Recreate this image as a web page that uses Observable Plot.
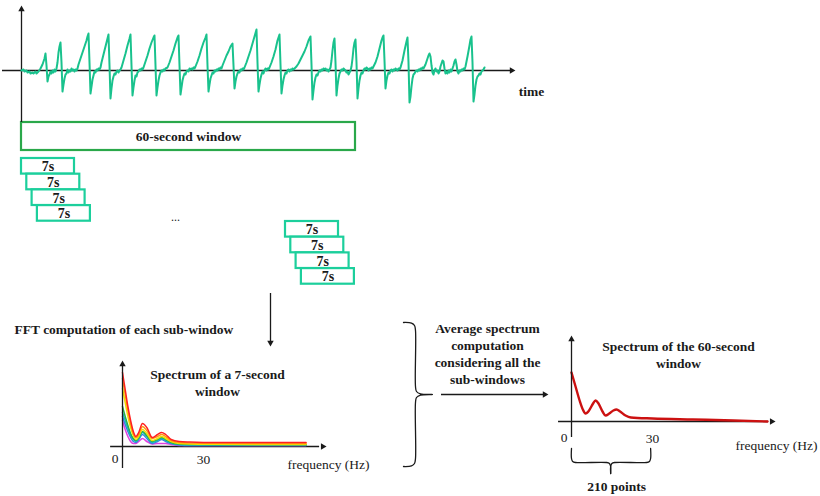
<!DOCTYPE html>
<html><head><meta charset="utf-8">
<script src="https://cdn.jsdelivr.net/npm/d3@7"></script>
<script src="https://cdn.jsdelivr.net/npm/@observablehq/plot@0.6"></script>
<style>
body{margin:0;background:#fff;}
#root{position:relative;width:820px;height:496px;overflow:hidden;background:#fff;font-family:'Liberation Serif',serif;}
#root svg{position:absolute;overflow:visible;}
</style></head><body><div id="root"></div>
<script>
// ---------------- DATA ----------------
// raw signal: [sample, amplitude]
const signal = [
[0,0],[2,1],[3,-1],[5,0],[6,-2],[8,-1],[9,-3],[11,-2],[12,-3],[14,-1],[15,-3],[17,-1],[19,2],[21,6],[23,12],[24,17],[25,5],[26,-11],[27,-6],[28,-4],[29,-1],[30,-3],[31,0],[32,-2],[33,1],[34,-1],[35,2],[36,8],[37,18],[38,24],[39,28],[40,8],[41,-21],[42,-14],[43,-8],[44,-4],[45,-3],[46,1],[47,-2],[48,0],[49,-1],[50,2],[51,0],[52,1],[53,-1],[54,1],[55,0],[56,2],[57,6],[59,12],[61,18],[63,24],[65,30],[66,34],[67,37],[68,8],[69,-23],[70,-16],[71,-9],[72,-5],[73,-1],[74,-2],[75,1],[76,0],[77,2],[78,1],[79,3],[80,8],[82,16],[84,24],[86,32],[87,36],[88,5],[89,-28],[90,-18],[91,-10],[92,-6],[93,-3],[94,-4],[95,-1],[96,0],[97,-2],[98,0],[99,1],[100,3],[102,10],[104,17],[106,25],[108,32],[109,36],[110,5],[111,-25],[112,-17],[113,-10],[114,-5],[115,-6],[116,-2],[117,-1],[118,1],[119,0],[120,2],[121,1],[122,3],[124,9],[126,15],[128,22],[130,28],[132,33],[133,35],[134,5],[135,-25],[136,-17],[137,-10],[138,-5],[139,-2],[140,0],[141,-1],[142,1],[143,0],[144,2],[146,3],[148,8],[150,14],[152,20],[154,27],[156,33],[157,35],[158,5],[159,-24],[160,-17],[161,-10],[162,-6],[163,-3],[164,-4],[165,-1],[166,0],[167,-1],[168,2],[169,1],[170,2],[171,1],[172,3],[173,2],[174,4],[176,9],[178,15],[180,22],[182,28],[184,33],[185,36],[186,5],[187,-21],[188,-14],[189,-8],[190,-5],[191,-2],[192,-3],[193,0],[194,-1],[195,1],[196,0],[197,2],[198,1],[199,3],[200,2],[201,5],[203,10],[205,15],[207,19],[209,24],[211,27],[212,5],[213,-18],[214,-11],[215,-6],[216,-3],[217,-1],[218,-2],[219,1],[220,0],[221,2],[222,1],[223,3],[225,8],[227,14],[229,20],[231,27],[233,34],[235,41],[236,8],[237,-21],[238,-14],[239,-8],[240,-4],[241,-1],[242,-3],[243,0],[244,2],[245,0],[246,2],[247,1],[248,3],[250,8],[252,14],[254,21],[256,30],[258,36],[259,6],[260,-23],[261,-15],[262,-9],[263,-5],[264,-2],[265,-3],[266,0],[267,1],[268,-1],[269,1],[270,0],[271,2],[272,1],[273,2],[275,4],[277,7],[279,11],[281,15],[283,19],[285,24],[287,30],[289,34],[290,6],[291,-29],[292,-20],[293,-12],[294,-7],[295,-4],[296,-5],[297,-2],[298,0],[299,-1],[300,1],[301,0],[302,2],[303,1],[304,2],[305,0],[306,1],[307,-1],[308,1],[309,3],[310,10],[311,20],[312,28],[313,32],[314,8],[315,-25],[316,-15],[317,-8],[318,-3],[319,-1],[320,1],[321,0],[322,2],[323,1],[324,0],[325,-2],[326,-1],[327,-4],[328,-2],[329,0],[330,4],[331,12],[332,22],[333,28],[334,31],[335,8],[336,-28],[337,-18],[338,-10],[339,-5],[340,-2],[341,-3],[342,0],[343,2],[344,1],[345,3],[346,2],[347,0],[348,2],[349,1],[350,3],[351,2],[352,4],[354,8],[356,14],[358,22],[360,30],[361,33],[362,35],[363,10],[364,-18],[365,-10],[366,-5],[367,-2],[368,-3],[369,0],[370,1],[371,-1],[372,1],[373,0],[374,2],[375,1],[376,0],[377,2],[378,1],[379,3],[381,10],[383,20],[385,29],[386,33],[387,8],[388,-32],[389,-26],[390,-16],[391,-8],[392,-4],[393,-3],[394,-1],[395,0],[396,-1],[397,1],[398,0],[399,2],[400,1],[401,3],[402,2],[403,4],[404,6],[405,9],[406,12],[407,15],[408,17],[409,14],[410,5],[411,-2],[412,-4],[413,0],[414,2],[415,-1],[416,0],[417,-3],[418,-1],[419,4],[420,7],[421,10],[422,9],[423,2],[424,-3],[425,-1],[426,-3],[427,0],[428,-2],[429,1],[430,-1],[431,2],[432,5],[433,9],[434,11],[435,6],[436,-1],[437,-3],[438,0],[439,-1],[440,1],[441,0],[442,2],[443,1],[444,4],[446,14],[448,25],[449,31],[450,34],[451,8],[452,-31],[453,-24],[454,-15],[455,-9],[456,-6],[457,-5],[458,-3],[459,-4],[460,-1],[461,0],[462,1],[463,3]
];

// spectrum of each 7-second sub-window
const spec7Freq = [0, 1, 2, 3, 4, 5, 6, 7.4, 9, 11, 13, 14.5, 16, 18, 21, 25, 35, 50, 68];
const spec7A = [74, 57, 40, 26, 15, 10, 14, 23, 19, 9, 12, 14, 12, 7, 5, 4.5, 4, 4, 4];
const spec7B = [68, 52, 36, 23, 13, 9, 12, 20, 16, 8, 10, 12, 10, 6, 4, 3.5, 3.2, 3, 3];
const spec7C = [58, 44, 30, 19, 11, 7, 10, 17, 13, 6, 8, 10, 8, 5, 3, 2.5, 2.2, 2, 2];
const spec7D = [40, 30, 21, 13, 8, 6, 9, 15, 11, 5, 7, 9, 7, 4, 2.5, 2, 1.8, 1.8, 1.8];
const spec7E = [34, 26, 18, 11, 7, 5, 8, 14, 10, 4, 6, 8, 6, 3.5, 2, 1.5, 1.5, 1.5, 1.5];
const spec7F = [30, 22, 15, 9, 5, 4, 7, 12, 8, 3, 5, 7, 5, 3, 1.5, 1, 1, 1, 1];
const spec7G = [26, 17, 10, 5, 3, 3, 5, 8, 5, 2.5, 3, 3, 3, 2, 1, 1, 1, 1, 1];
const spec7Series = ["w1", "w2", "w3", "w4", "w5", "w6", "w7"];

// averaged spectrum of the 60-second window
const spec60Freq = [0, 1.5, 3, 4.2, 5.2, 6.5, 8, 8.9, 10, 11.5, 12.6, 14, 15.5, 16.7, 18, 20, 22, 30, 45, 60, 72.6];
const spec60Amp = [49, 35, 21, 12, 8, 11, 18, 21, 18, 10, 6, 8, 11, 12, 10, 6, 4, 3, 2, 1, 0];

const freqTicks = [0, 30];
const freqTickLabels = ["0", "30"];
const subWindowLabels = ["7s", "7s", "7s", "7s"];
const windowLabel = "60-second window";
const timeLabel = "time";
const freqLabel = "frequency (Hz)";
const fftLabel = "FFT computation of each sub-window";
const spec7Title = ["Spectrum of a 7-second", "window"];
const avgLabel = ["Average spectrum", "computation", "considering all the", "sub-windows"];
const spec60Title = ["Spectrum of the 60-second", "window"];
const pointsLabel = "210 points";

// ---------------- STYLE ----------------
const FONT = "Liberation Serif";
const INK = "#1a1a1a";
const TEAL = "#19c28d";
const BOXTEAL = "#1ccf9c";
const GREEN = "#2aa84a";
const spec7Colors = ["#ff2020", "#ff9a10", "#f2e000", "#27b24a", "#18b4c8", "#3a7ee0", "#e040e0"];
const FS = 13.5;
const STYLE = {background: "transparent", fontFamily: "'Liberation Serif', serif", fontSize: "13.5px"};
const root = document.getElementById("root");
const place = (svg, left, top) => { svg.style.left = left + "px"; svg.style.top = top + "px"; root.appendChild(svg); };
const head = (data, opts) => Plot.dot(data, {symbol: "triangle", r: 2.4, fill: INK, stroke: "none", ...opts});

// ---------------- LAYOUT PLOT ----------------
const W = 820, H = 496;
const win60 = {x1: 21, x2: 355, y1: 122, y2: 150};
const groupStarts = [[21, 158], [285, 221]];
const boxW = 53, boxH = 15.6, stepX = 5.3, stepY = 15.7;
const boxes = groupStarts.flatMap(([gx, gy]) => subWindowLabels.map((label, i) => ({
  label, x1: gx + i * stepX, x2: gx + i * stepX + boxW, y1: gy + i * stepY, y2: gy + i * stepY + boxH
})));
const braceV = (() => {
  const xe = 403, xv = 415, xt = 432, yt = 322, ym = 394, yb = 466;
  return [[xe, yt], [xv - 4, yt + 0.6], [xv - 1, yt + 3], [xv, yt + 8], [xv, ym - 8], [xv + 1, ym - 3], [xv + 5, ym - 0.6], [xt, ym],
          [xv + 5, ym + 0.6], [xv + 1, ym + 3], [xv, ym + 8], [xv, yb - 8], [xv - 1, yb - 3], [xv - 4, yb - 0.6], [xe, yb]];
})();
const txt = (data, opts) => Plot.text(data, {fontFamily: FONT, fontSize: FS, fill: INK, ...opts});

const layout = Plot.plot({
  width: W, height: H, margin: 0,
  x: {domain: [0, W], range: [0, W], axis: null},
  y: {domain: [0, H], range: [0, H], axis: null},
  style: STYLE,
  marks: [
    Plot.rect([win60], {x1: "x1", x2: "x2", y1: "y1", y2: "y2", fill: "white", stroke: GREEN, strokeWidth: 2.2}),
    txt([windowLabel], {x: (win60.x1 + win60.x2) / 2, y: 136, text: d => d, fontWeight: "bold"}),
    Plot.rect(boxes, {x1: "x1", x2: "x2", y1: "y1", y2: "y2", fill: "white", stroke: BOXTEAL, strokeWidth: 2.2}),
    txt(boxes, {x: d => (d.x1 + d.x2) / 2, y: d => (d.y1 + d.y2) / 2 + 0.5, text: "label", fontWeight: "bold", fontSize: 14}),
    txt(["..."], {x: 175, y: 217, text: d => d, fontSize: 12}),
    txt([timeLabel], {x: 531, y: 91, text: d => d, fontWeight: "bold"}),
    txt([fftLabel], {x: 14, y: 329, text: d => d, fontWeight: "bold", textAnchor: "start"}),
    Plot.ruleX([270], {y1: 293, y2: 343, stroke: INK, strokeWidth: 1.3}),
    head([[270, 346]], {x: d => d[0], y: d => d[1], rotate: 180, dy: -3.8}),
    txt([spec7Title.join("\n")], {x: 217, y: 381.5, text: d => d, fontWeight: "bold", lineHeight: 1.26}),
    txt([freqLabel], {x: 287, y: 464, text: d => d, textAnchor: "start"}),
    Plot.line(braceV, {x: d => d[0], y: d => d[1], stroke: INK, strokeWidth: 1.3, curve: "catmull-rom"}),
    txt([avgLabel.join("\n")], {x: 487, y: 352.5, text: d => d, fontWeight: "bold", lineHeight: 1.26}),
    Plot.ruleY([394], {x1: 441, x2: 544, stroke: INK, strokeWidth: 1.3}),
    head([[548, 394]], {x: d => d[0], y: d => d[1], rotate: 90, dx: -3.8}),
    txt([spec60Title.join("\n")], {x: 678, y: 353.5, text: d => d, fontWeight: "bold", lineHeight: 1.26}),
    txt([freqLabel], {x: 735, y: 445, text: d => d, textAnchor: "start"})
  ]
});
place(layout, 0, 0);

// ---------------- SIGNAL PLOT ----------------
const sig = Plot.plot({
  width: 540, height: 125, margin: 0,
  x: {domain: [-21, 519], range: [0, 540], axis: null},
  y: {domain: [-55, 70], range: [125, 0], axis: null},
  style: STYLE,
  marks: [
    Plot.ruleY([0], {x1: -19, x2: 490, stroke: INK, strokeWidth: 1.3}),
    head([[494, 0]], {x: d => d[0], y: d => d[1], rotate: 90, dx: -3.8}),
    Plot.ruleX([0], {y1: -52, y2: 60, stroke: INK, strokeWidth: 1.3}),
    head([[0, 65]], {x: d => d[0], y: d => d[1], rotate: 0, dy: 3.8}),
    Plot.line(signal, {x: d => d[0], y: d => d[1], stroke: TEAL, strokeWidth: 2, strokeLinejoin: "round"})
  ]
});
place(sig, 0, 0);

// ---------------- 7-SECOND SPECTRA ----------------
const spec7Arrays = [spec7A, spec7B, spec7C, spec7D, spec7E, spec7F, spec7G];
const spec7Rows = spec7Series.flatMap((s, i) => spec7Freq.map((f, j) => ({series: s, f, a: spec7Arrays[i][j]})));
const s7 = Plot.plot({
  width: 240, height: 130, margin: 0,
  x: {domain: [0, 30], range: [22, 103], axis: null},
  y: {domain: [0, 74], range: [96, 22], axis: null},
  color: {domain: spec7Series, range: spec7Colors},
  style: STYLE,
  marks: [
    Plot.ruleY([0], {x1: -4.4, x2: 73, stroke: INK, strokeWidth: 1.3}),
    head([[75.6, 0]], {x: d => d[0], y: d => d[1], rotate: 90, dx: -3.8}),
    Plot.line(spec7Rows.slice().reverse(), {x: "f", y: "a", z: "series", stroke: "series", strokeWidth: 1.5, curve: "monotone-x"}),
    Plot.ruleX([0], {y1: -22, y2: 82, stroke: INK, strokeWidth: 1.3}),
    head([[0, 86]], {x: d => d[0], y: d => d[1], rotate: 0, dy: 3.8}),
    txt([0], {x: d => freqTicks[d], y: -12, text: d => freqTickLabels[d], textAnchor: "end", dx: -4}),
    txt([1], {x: d => freqTicks[d], y: -13, text: d => freqTickLabels[d]})
  ]
});
place(s7, 100, 350);

// ---------------- 60-SECOND SPECTRUM ----------------
const spec60Rows = spec60Freq.map((f, i) => ({f, a: spec60Amp[i]}));
const px = 1 / 2.7;
const bL = freqTicks[0], bR = 29.3, bM = 14.5, yT = -27, yH = -41, yTip = -52;
const brace60 = [
  ...[[bL, yT], [bL, yH + 4], [bL + 1.2 * px, yH + 1], [bL + 4 * px, yH], [bM - 4 * px, yH], [bM - 1.2 * px, yH - 1], [bM, yH - 4], [bM, yTip]].map(p => ({side: "L", f: p[0], a: p[1]})),
  ...[[bR, yT], [bR, yH + 4], [bR - 1.2 * px, yH + 1], [bR - 4 * px, yH], [bM + 4 * px, yH], [bM + 1.2 * px, yH - 1], [bM, yH - 4], [bM, yTip]].map(p => ({side: "R", f: p[0], a: p[1]}))
];
const s60 = Plot.plot({
  width: 280, height: 170, margin: 0,
  x: {domain: [0, 30], range: [31, 112], axis: null},
  y: {domain: [0, 49], range: [96, 47], axis: null},
  style: STYLE,
  marks: [
    Plot.ruleY([0], {x1: -4.8, x2: 73, stroke: INK, strokeWidth: 1.3}),
    head([[75.6, 0]], {x: d => d[0], y: d => d[1], rotate: 90, dx: -3.8}),
    Plot.line(spec60Rows, {x: "f", y: "a", stroke: "#cc1111", strokeWidth: 2.4, curve: "monotone-x"}),
    Plot.ruleX([0], {y1: -16, y2: 82, stroke: INK, strokeWidth: 1.3}),
    head([[0, 86]], {x: d => d[0], y: d => d[1], rotate: 0, dy: 3.8}),
    txt([0], {x: d => freqTicks[d], y: -16, text: d => freqTickLabels[d], textAnchor: "end", dx: -4}),
    txt([1], {x: d => freqTicks[d], y: -17, text: d => freqTickLabels[d]}),
    Plot.line(brace60, {x: "f", y: "a", z: "side", stroke: INK, strokeWidth: 1.3, curve: "catmull-rom"}),
    txt([pointsLabel], {x: bM, y: -65, dx: 6, text: d => d, fontWeight: "bold"})
  ]
});
place(s60, 540, 325);
</script></body></html>
